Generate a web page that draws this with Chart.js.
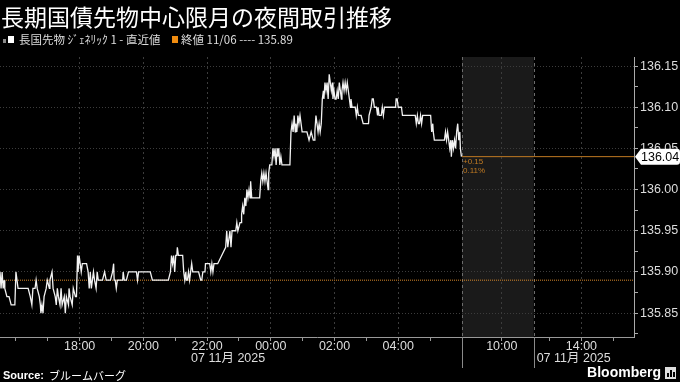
<!DOCTYPE html>
<html>
<head>
<meta charset="utf-8">
<script src="https://cdn.jsdelivr.net/npm/chart.js@4/dist/chart.umd.min.js"></script>
<style>
  html, body { margin: 0; padding: 0; background: #000; }
  #wrap { position: relative; width: 680px; height: 382px; }
</style>
</head>
<body>
<div id="wrap"><canvas id="jgbChart"></canvas></div>
<script>
const title = '長期国債先物中心限月の夜間取引推移';
const seriesName = '長国先物 ｼﾞｪﾈﾘｯｸ 1 - 直近値';
const closeName = '終値 11/06 ---- 135.89';
const prevClose = 135.89;
const dateLabel = '07 11月 2025';

// night session trades
const times = [
  '15:30','15:32','15:34','15:36','15:38','15:39','15:43','15:47','15:51','15:55','15:58',
  '16:00','16:04','16:08','16:15','16:23','16:27','16:30','16:32','16:36','16:38','16:40','16:44','16:46','16:47','16:49','16:51','16:53','16:57','16:59',
  '17:03','17:04','17:08','17:10','17:14','17:16','17:18','17:20','17:23','17:25','17:27','17:31','17:33','17:35','17:39','17:40','17:42','17:46','17:48','17:52','17:54','17:56','17:57','17:59',
  '18:01','18:03','18:05','18:09','18:13','18:16','18:18','18:20','18:22','18:24','18:26','18:28','18:31','18:33','18:35','18:39','18:43','18:47','18:50','18:54','18:58',
  '19:02','19:04','19:05','19:07','19:09','19:11','19:17','19:21','19:22','19:24','19:28','19:32','19:39','19:47','19:49','19:51','19:58',
  '20:06','20:13','20:17','20:25','20:32','20:40','20:47','20:51','20:53','20:55','20:57','20:59',
  '21:01','21:03','21:04','21:06','21:10','21:14','21:16','21:18','21:20','21:21','21:23','21:25','21:27','21:29','21:31','21:33','21:37','21:40','21:44','21:48','21:50','21:52','21:56','21:57',
  '22:01','22:05','22:07','22:09','22:11','22:13','22:16','22:20','22:35','22:37','22:39','22:41','22:43','22:45','22:47','22:50','22:54','22:56','22:58',
  '23:02','23:04','23:05','23:07','23:09','23:11','23:13','23:15','23:17','23:19','23:21','23:22','23:24','23:28','23:32','23:36','23:39','23:41','23:43','23:45','23:47','23:49','23:51','23:53','23:55','23:56','23:58',
  '00:02','00:04','00:06','00:08','00:10','00:12','00:13','00:15','00:17','00:19','00:21','00:25','00:29','00:32','00:36','00:38','00:40','00:42','00:44','00:46','00:47','00:49','00:51','00:53','00:55','00:57','00:59',
  '01:01','01:04','01:08','01:12','01:16','01:20','01:22','01:23','01:25','01:27','01:29','01:31','01:33','01:35','01:37','01:39','01:40','01:42','01:44','01:46','01:48','01:50','01:52','01:54','01:56','01:57','01:59',
  '02:01','02:03','02:05','02:07','02:09','02:11','02:13','02:14','02:16','02:18','02:20','02:22','02:24','02:26','02:28','02:30','02:31','02:33','02:35','02:39','02:41','02:43','02:45','02:47','02:50','02:54','02:58',
  '03:02','03:04','03:05','03:09','03:11','03:13','03:15','03:19','03:21','03:22','03:24','03:28','03:30','03:32','03:34','03:38','03:43','03:47','03:51','03:55','03:56','03:58',
  '04:00','04:02','04:06','04:08','04:10','04:17','04:25','04:32','04:34','04:36','04:38','04:40','04:42','04:44','04:46','04:47','04:55',
  '05:01','05:03','05:05','05:06','05:08','05:12','05:18','05:23','05:27','05:29','05:31','05:33','05:35','05:37','05:39','05:40','05:42','05:44','05:46','05:48','05:50','05:52','05:54','05:56','05:57','05:59','06:00'
];
const prices = [
  135.90,135.88,135.90,135.88,135.89,135.88,135.87,135.87,135.86,135.86,135.86,
  135.90,135.88,135.88,135.88,135.88,135.87,135.86,135.88,135.88,135.89,135.88,135.87,135.86,135.85,135.86,135.85,135.87,135.88,135.89,
  135.88,135.89,135.90,135.88,135.87,135.86,135.88,135.87,135.86,135.88,135.86,135.87,135.85,135.87,135.86,135.88,135.87,135.86,135.88,135.87,135.87,135.92,135.90,135.92,
  135.91,135.90,135.91,135.91,135.91,135.90,135.88,135.90,135.88,135.89,135.90,135.89,135.88,135.90,135.89,135.89,135.89,135.90,135.89,135.89,135.89,
  135.90,135.91,135.89,135.89,135.88,135.89,135.89,135.89,135.90,135.89,135.89,135.90,135.90,135.90,135.89,135.90,135.90,
  135.90,135.90,135.89,135.89,135.89,135.89,135.89,135.90,135.92,135.91,135.92,135.90,
  135.92,135.92,135.93,135.92,135.92,135.92,135.90,135.89,135.90,135.89,135.89,135.90,135.89,135.90,135.91,135.90,135.90,135.90,135.90,135.89,135.89,135.90,135.90,135.91,
  135.91,135.91,135.90,135.91,135.90,135.91,135.91,135.91,135.93,135.95,135.93,135.94,135.95,135.93,135.95,135.95,135.95,135.96,135.95,
  135.96,135.96,135.97,135.98,135.97,135.99,135.98,136.00,135.99,136.00,135.99,136.01,135.99,135.99,135.99,135.99,135.99,136.01,136.02,136.01,136.02,136.01,136.02,136.01,136.00,136.02,136.03,
  136.03,136.05,136.04,136.05,136.03,136.05,136.04,136.05,136.03,136.04,136.03,136.03,136.03,136.03,136.03,136.07,136.08,136.07,136.09,136.07,136.08,136.07,136.09,136.08,136.09,136.08,136.07,
  136.07,136.07,136.07,136.06,136.07,136.06,136.06,136.07,136.09,136.08,136.07,136.08,136.07,136.08,136.11,136.12,136.11,136.13,136.12,136.13,136.11,136.14,136.13,136.12,136.13,136.11,136.12,
  136.11,136.11,136.12,136.11,136.13,136.12,136.11,136.12,136.13,136.12,136.13,136.12,136.13,136.12,136.11,136.10,136.11,136.10,136.10,136.10,136.09,136.10,136.09,136.09,136.09,136.08,136.08,
  136.08,136.08,136.09,136.10,136.11,136.11,136.10,136.10,136.09,136.10,136.09,136.09,136.10,136.09,136.10,136.10,136.10,136.10,136.10,136.10,136.11,136.11,
  136.10,136.10,136.10,136.09,136.09,136.09,136.09,136.09,136.08,136.09,136.08,136.08,136.09,136.08,136.09,136.09,136.09,
  136.09,136.07,136.08,136.07,136.06,136.06,136.06,136.06,136.06,136.07,136.06,136.07,136.06,136.05,136.06,136.04,136.06,136.05,136.06,136.05,136.07,136.08,136.06,136.07,136.05,136.04,136.04
];

const yTicks = [135.85, 135.90, 135.95, 136.00, 136.05, 136.10, 136.15];
const nightTickTimes = ['16:00','17:00','18:00','19:00','20:00','21:00','22:00','23:00','00:00','01:00','02:00','03:00','04:00','05:00'];
const dayTickTimes = ['10:00','13:00','14:00','15:00'];
const xTickLabels = ['18:00','20:00','22:00','00:00','02:00','04:00','10:00','14:00'];

// axis is in hours, with the gaps between sessions squeezed out
const NIGHT_END = 14.5;   // 06:00 night close == 08:45 day open
const AM_END = 16.75;     // 11:00 morning close == 12:30 afternoon open
const X_MAX = 19.9;

function toAxis(t, daySession) {
  const [h, m] = t.split(':').map(Number);
  const v = h + m / 60;
  if (!daySession) return v >= 12 ? v - 15.5 : v + 24 - 15.5;
  if (v <= 11) return NIGHT_END + (v - 8.75);
  return AM_END + (v - 12.5);
}

const tickMap = new Map();
nightTickTimes.forEach(t => tickMap.set(+toAxis(t, false).toFixed(4), t));
dayTickTimes.forEach(t => tickMap.set(+toAxis(t, true).toFixed(4), t));

const isMajorY = v => yTicks.some(t => Math.abs(t - v) < 1e-6);

const lastPrice = prices[prices.length - 1];
const lineData = times.map((t, i) => ({ x: toAxis(t, false), y: prices[i] }));

const ORANGE = '#c07a22';

const decoPlugin = {
  id: 'deco',
  beforeDraw(chart) {
    const { ctx, chartArea: a, scales: { x } } = chart;
    ctx.save();
    ctx.fillStyle = '#000';
    ctx.fillRect(0, 0, chart.width, chart.height);
    const s0 = x.getPixelForValue(NIGHT_END), s1 = x.getPixelForValue(AM_END);
    ctx.fillStyle = '#1a1a1a';
    ctx.fillRect(s0, a.top, s1 - s0, a.bottom - a.top);
    ctx.restore();
  },
  beforeDatasetsDraw(chart) {
    const { ctx, chartArea: a, scales: { x } } = chart;
    ctx.save();
    [NIGHT_END, AM_END].forEach(v => {
      const px = Math.round(x.getPixelForValue(v)) + 0.5;
      ctx.strokeStyle = '#6c6c6c';
      ctx.lineWidth = 1;
      ctx.setLineDash([3, 3]);
      ctx.beginPath(); ctx.moveTo(px, a.top); ctx.lineTo(px, a.bottom); ctx.stroke();
      ctx.setLineDash([]);
      ctx.strokeStyle = '#8a8a8a';
      ctx.beginPath(); ctx.moveTo(px, a.bottom); ctx.lineTo(px, a.bottom + 31); ctx.stroke();
    });
    ctx.restore();
  },
  afterDraw(chart) {
    const { ctx, chartArea: a, scales: { x, y } } = chart;
    ctx.save();
    ctx.textBaseline = 'middle';

    // title + legend
    ctx.fillStyle = '#fff';
    ctx.font = "23px 'Noto Sans CJK JP'";
    ctx.fillText(title, 1, 17);
    ctx.font = "11.5px 'Noto Sans CJK JP'";
    ctx.fillStyle = '#8a8a8a';
    ctx.fillRect(3, 39, 3, 4);
    ctx.fillStyle = '#fff';
    ctx.fillRect(8, 36, 6, 7);
    ctx.fillStyle = '#ddd';
    ctx.fillText(seriesName, 19, 40);
    ctx.fillStyle = '#f08c10';
    ctx.fillRect(172, 36, 6, 7);
    ctx.fillStyle = '#ddd';
    ctx.fillText(closeName, 181, 40);

    // dates under the time labels
    ctx.font = "12.5px 'Liberation Sans', 'Noto Sans CJK JP'";
    ctx.fillStyle = '#ddd';
    ctx.fillText(dateLabel, x.getPixelForValue(toAxis('22:00', false)) - 16, 359);
    ctx.fillText(dateLabel, x.getPixelForValue(AM_END) + 3, 359);

    // change vs previous close
    const ly = y.getPixelForValue(lastPrice);
    const s0 = x.getPixelForValue(NIGHT_END);
    const chg = lastPrice - prevClose;
    ctx.font = "8px 'Liberation Sans'";
    ctx.fillStyle = ORANGE;
    ctx.fillText((chg >= 0 ? '+' : '') + chg.toFixed(2), s0 + 1, ly + 5);
    ctx.fillText((chg / prevClose * 100).toFixed(2) + '%', s0 + 1, ly + 14);

    // last price tag
    const r = a.right + 1;
    ctx.fillStyle = '#fff';
    ctx.beginPath();
    ctx.moveTo(r, ly);
    ctx.lineTo(r + 6, ly - 8);
    ctx.lineTo(677, ly - 8);
    ctx.quadraticCurveTo(680, ly - 8, 680, ly - 5);
    ctx.lineTo(680, ly + 5);
    ctx.quadraticCurveTo(680, ly + 8, 677, ly + 8);
    ctx.lineTo(r + 6, ly + 8);
    ctx.closePath();
    ctx.fill();
    ctx.fillStyle = '#000';
    ctx.font = "12.5px 'Liberation Sans'";
    ctx.fillText(lastPrice.toFixed(2), r + 6, ly + 1);

    // footer
    ctx.fillStyle = '#fff';
    ctx.font = "bold 11px 'Liberation Sans'";
    ctx.fillText('Source:', 3, 376);
    ctx.font = "11px 'Noto Sans CJK JP'";
    ctx.fillText('ブルームバーグ', 49, 376);
    ctx.font = "bold 14px 'Liberation Sans'";
    ctx.textAlign = 'right';
    ctx.fillText('Bloomberg', 661, 373);
    ctx.fillStyle = '#ddd';
    ctx.fillRect(665, 367, 11, 12);
    ctx.fillStyle = '#000';
    ctx.fillRect(667, 373, 2, 4);
    ctx.fillRect(670, 370, 2, 7);
    ctx.fillRect(673, 372, 2, 5);
    ctx.restore();
  }
};

new Chart(document.getElementById('jgbChart'), {
  type: 'line',
  data: {
    datasets: [
      {
        label: seriesName,
        data: lineData,
        borderColor: '#f2f2f2',
        borderWidth: 1.3,
        pointRadius: 0,
        tension: 0
      },
      {
        label: closeName,
        data: [{ x: 0, y: prevClose }, { x: X_MAX, y: prevClose }],
        borderColor: '#d4862a',
        borderWidth: 1,
        borderDash: [1, 1],
        pointRadius: 0
      },
      {
        label: 'last',
        data: [{ x: NIGHT_END, y: lastPrice }, { x: X_MAX, y: lastPrice }],
        borderColor: ORANGE,
        borderWidth: 1,
        pointRadius: 0
      }
    ]
  },
  options: {
    responsive: true,
    maintainAspectRatio: false,
    animation: false,
    layout: { padding: { top: 57, left: 0, right: 0, bottom: 0 } },
    plugins: { legend: { display: false }, tooltip: { enabled: false } },
    scales: {
      x: {
        type: 'linear',
        min: 0,
        max: X_MAX,
        afterBuildTicks: scale => {
          scale.ticks = [...tickMap.keys()].map(v => ({ value: v }));
        },
        afterFit: scale => { scale.height = 45; },
        grid: {
          color: c => (c.tick && xTickLabels.includes(tickMap.get(+c.tick.value.toFixed(4))) ? '#3c3c3c' : 'rgba(0,0,0,0)'),
          tickColor: '#999',
          tickLength: 4
        },
        border: { color: '#999', dash: [2, 3] },
        ticks: {
          autoSkip: false,
          maxRotation: 0,
          padding: -2,
          color: '#ddd',
          font: { family: 'Liberation Sans', size: 12.5 },
          callback: v => {
            const t = tickMap.get(+Number(v).toFixed(4));
            return xTickLabels.includes(t) ? t : '';
          }
        }
      },
      y: {
        position: 'right',
        min: 135.821,
        max: 136.161,
        afterBuildTicks: scale => {
          const vals = [];
          for (let v = 135.825; v <= 136.151; v += 0.025) vals.push(+v.toFixed(3));
          scale.ticks = vals.map(v => ({ value: v }));
        },
        afterFit: scale => { scale.width = 46; },
        grid: {
          color: c => (c.tick && isMajorY(c.tick.value) ? '#3c3c3c' : 'rgba(0,0,0,0)'),
          tickColor: '#aaa',
          tickLength: 4
        },
        border: { color: '#aaa', dash: [1, 2] },
        ticks: {
          padding: 2,
          color: '#ddd',
          font: { family: 'Liberation Sans', size: 12.5 },
          callback: v => (isMajorY(v) ? Number(v).toFixed(2) : '')
        }
      }
    }
  },
  plugins: [decoPlugin]
});
</script>
</body>
</html>
